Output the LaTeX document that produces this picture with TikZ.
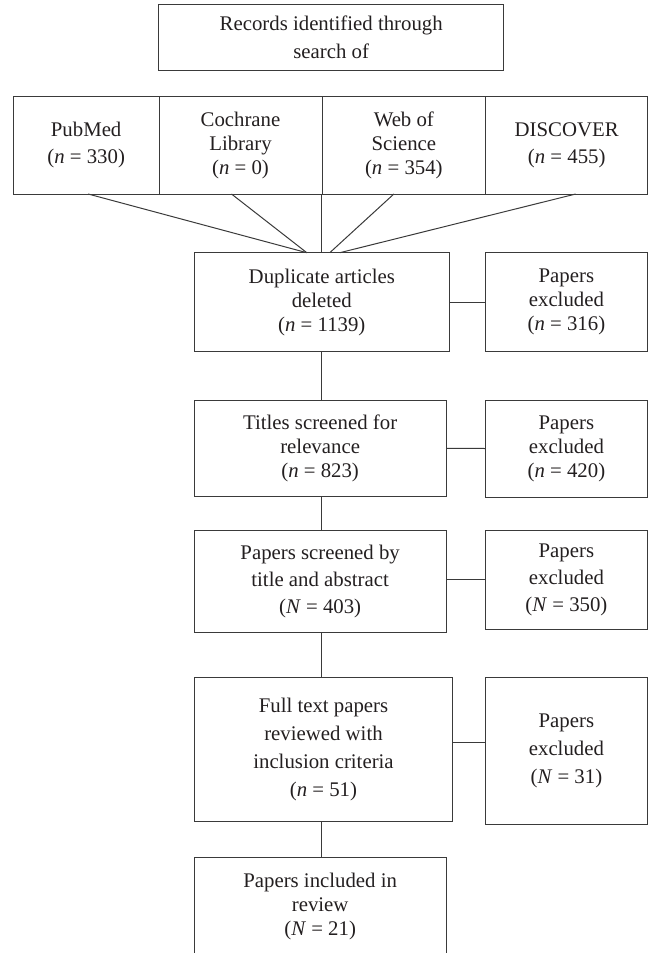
\documentclass[tikz,border=0pt]{standalone}
\usepackage{fontspec}
\setmainfont{Liberation Serif}
\usepackage{tikz}
\usetikzlibrary{positioning,calc}
\definecolor{FlowLine}{HTML}{3A3A3A}
\definecolor{FlowText}{HTML}{231F20}
\newcommand{\boxfont}{\fontsize{20.8}{24}\selectfont}
\newcommand{\cnt}[2]{(\textit{#1} = #2)}

\begin{document}
\begin{tikzpicture}[
  x=1pt, y=1pt,
  flowbox/.style={draw=FlowLine, line width=1pt, align=center, inner sep=0pt, outer sep=0pt, font=\boxfont, text=FlowText},
  sourcebox/.style={flowbox, minimum width=163pt, minimum height=97.3pt},
  mainbox/.style={flowbox, minimum width=251.7pt, anchor=north west},
  exclbox/.style={flowbox, minimum width=162.2pt, anchor=north west},
  link/.style={draw=FlowLine, line width=1pt}
]
  \useasboundingbox (0,0) rectangle (648,-953);
  \clip (0,0) rectangle (648,-953);

  % search sources
  \node[flowbox, minimum width=345pt, minimum height=65.3pt, anchor=north west] (recs) at (158.7,-4.7) {Records identified through\\[4pt]search of};
  \node[sourcebox, minimum width=145.7pt, anchor=north west] (pubmed) at (13.3,-96.7) {PubMed\\[3pt]\cnt{n}{330}};
  \node[sourcebox, right=0pt of pubmed] (cochrane) {Cochrane\\Library\\\cnt{n}{0}};
  \node[sourcebox, minimum width=163.7pt, right=0pt of cochrane] (wos) {Web of\\Science\\\cnt{n}{354}};
  \node[sourcebox, minimum width=162pt, right=0pt of wos] (discover) {DISCOVER\\[3pt]\cnt{n}{455}};

  % screening steps
  \coordinate (rcol) at (485.3,0);
  \node[mainbox, minimum width=255pt, minimum height=99pt] (dup) at (194.3,-252.7) {Duplicate articles\\deleted\\\cnt{n}{1139}};
  \node[exclbox, minimum height=99pt] (excl1) at (rcol |- dup.north) {Papers\\excluded\\\cnt{n}{316}};
  \node[mainbox, minimum height=96.7pt, below=48.3pt of dup.south west, anchor=north west] (titles) {Titles screened for\\relevance\\\cnt{n}{823}};
  \node[exclbox, minimum height=97pt] (excl2) at (rcol |- titles.north) {Papers\\excluded\\\cnt{n}{420}};
  \node[mainbox, minimum height=101.6pt, below=34pt of titles.south west, anchor=north west] (screened) {Papers screened by\\[3pt]title and abstract\\[3pt]\cnt{N}{403}};
  \node[exclbox, minimum height=98.3pt] (excl3) at (rcol |- screened.north) {Papers\\[3pt]excluded\\[3pt]\cnt{N}{350}};
  \node[mainbox, minimum width=258.4pt, minimum height=143.3pt, below=45.4pt of screened.south west, anchor=north west] (fulltext) {Full text papers\\[4pt]reviewed with\\[4pt]inclusion criteria\\[4pt]\cnt{n}{51}};
  \node[exclbox, minimum height=146.6pt] (excl4) at (rcol |- fulltext.north) {Papers\\[4pt]excluded\\[4pt]\cnt{N}{31}};
  \node[mainbox, minimum height=99pt, below=36pt of fulltext.south west, anchor=north west] (included) {Papers included in\\review\\\cnt{N}{21}};

  \draw[link] ([xshift=2pt]pubmed.south) -- ([xshift=-15pt]dup.north);
  \draw[link] ([xshift=-9pt]cochrane.south) -- ([xshift=-15pt]dup.north);
  \draw[link] (dup.north |- wos.south) -- (dup.north);
  \draw[link] ([xshift=-10pt]wos.south) -- ([xshift=8pt]dup.north);
  \draw[link] ([xshift=9pt]discover.south) -- ([xshift=18pt]dup.north);

  \draw[link] (dup.east) -- (excl1.west);
  \draw[link] (dup.south) -- (dup.south |- titles.north);
  \draw[link] (titles.east) -- (excl2.west);
  \draw[link] (titles.south -| dup.south) -- (dup.south |- screened.north);
  \draw[link] (excl3.west -| screened.east) -- (excl3.west);
  \draw[link] (screened.south -| dup.south) -- (dup.south |- fulltext.north);
  \coordinate (ftlink) at ([yshift=6.6pt]fulltext.east);
  \draw[link] (ftlink) -- (ftlink -| excl4.west);
  \draw[link] (fulltext.south -| dup.south) -- (dup.south |- included.north);
\end{tikzpicture}
\end{document}
